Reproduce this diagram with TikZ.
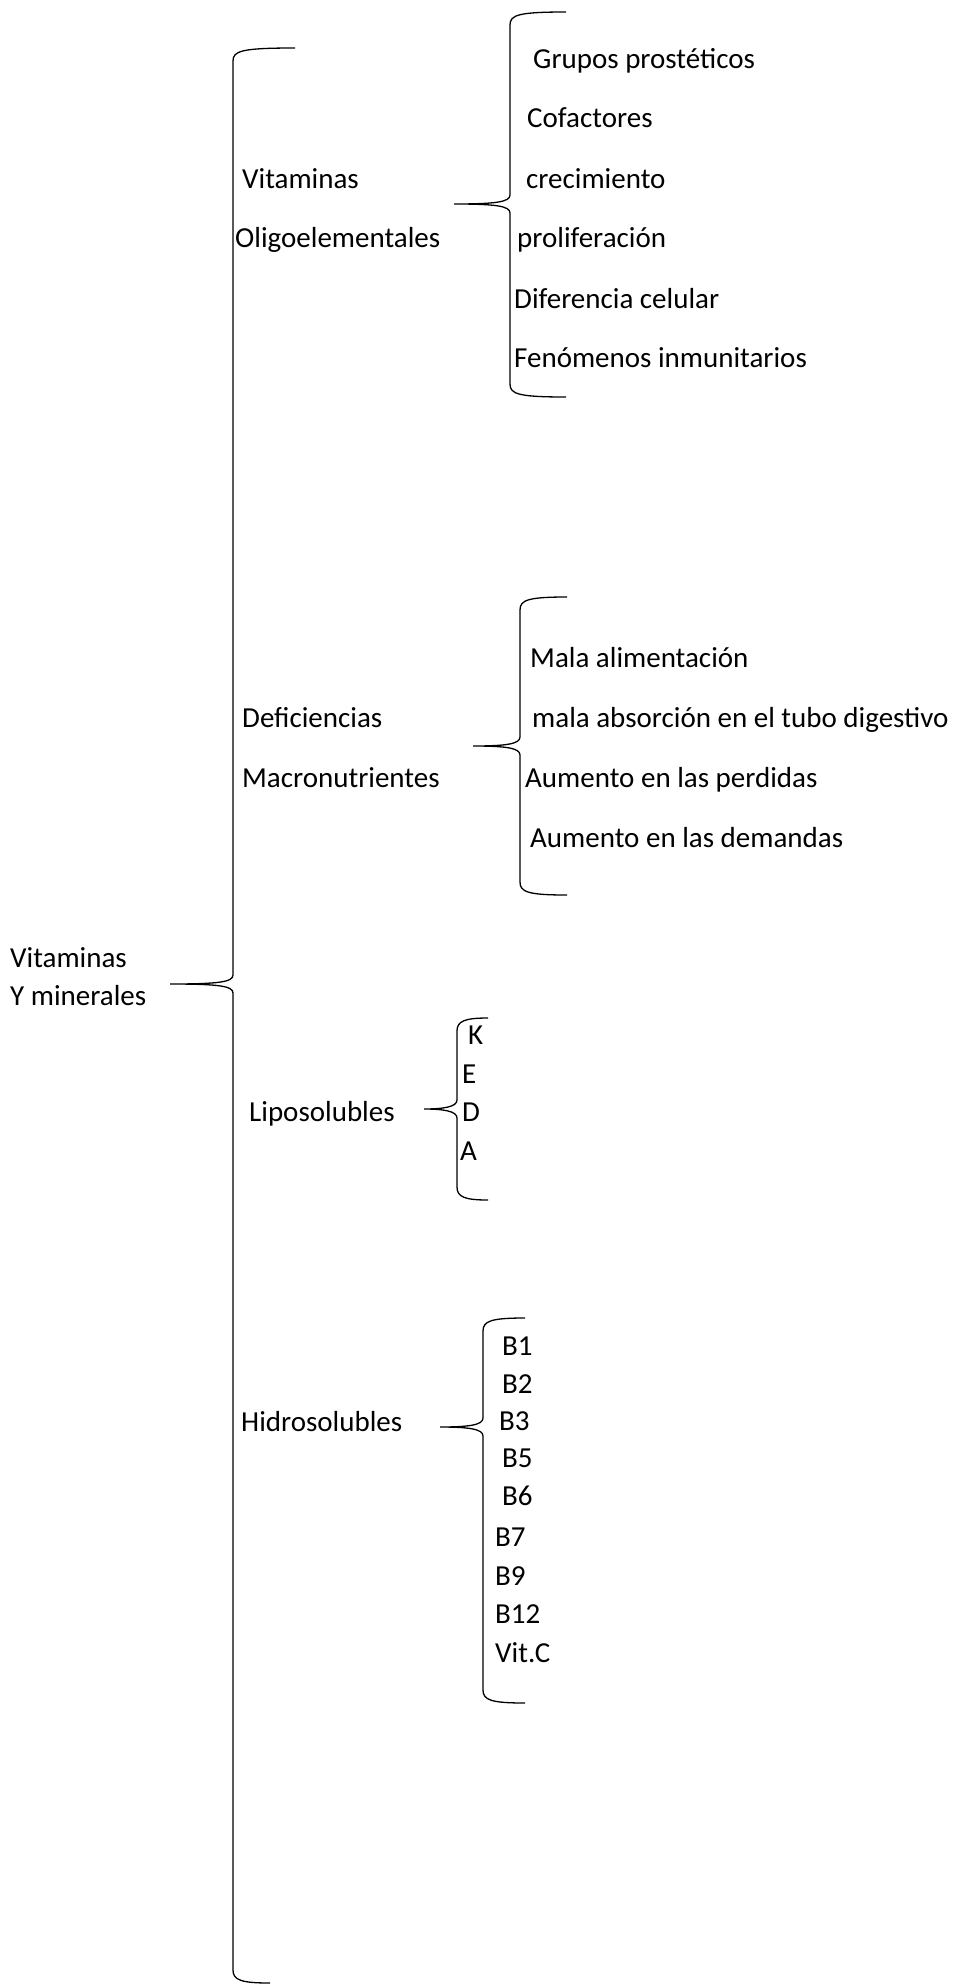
\documentclass[tikz,border=0pt]{standalone}
\usepackage{fontspec}
\setmainfont{Carlito}

% brace: tip x, tip y, vertical x, top y, bottom y, top end x, bottom end x
\newcommand{\llave}[7]{%
  \draw[brace] (#6,#4) .. controls ({#3+8},#4) and (#3,{#4+3}) .. (#3,{#4+13})
    -- (#3,{#2-9}) .. controls (#3,{#2-2}) and ({#3-14},#2) .. (#1,#2)
    .. controls ({#3-14},#2) and (#3,{#2+2}) .. (#3,{#2+9})
    -- (#3,{#5-13}) .. controls (#3,{#5-3}) and ({#3+8},#5) .. (#7,#5);}

\begin{document}
\begin{tikzpicture}[
    x=1pt, y=-1pt,
    label/.style={
        anchor=base west,
        inner sep=0pt,
        font=\fontsize{29}{34}\selectfont
    },
    brace/.style={line width=1.3pt}
]
\useasboundingbox (0,0) rectangle (956,1986);

% Root
\node[label] (raiz1) at (10,967)  {Vitaminas};
\node[label] (raiz2) at (10,1005) {Y minerales};

% First group
\node[label] (vit)   at (242,188) {Vitaminas};
\node[label] (oligo) at (235,247) {Oligoelementales};
\node[label] (grupos) at (533,68)  {Grupos prostéticos};
\node[label] (cofact) at (527,127) {Cofactores};
\node[label] (crec)   at (526,188) {crecimiento};
\node[label] (prolif) at (517,247) {proliferación};
\node[label] (difer)  at (514,308) {Diferencia celular};
\node[label] (fenom)  at (514,367) {Fenómenos inmunitarios};

% Second group
\node[label] (defic) at (242,727) {Deficiencias};
\node[label] (macro) at (242,787) {Macronutrientes};
\node[label] (mala)  at (530,667) {Mala alimentación};
\node[label] (absor) at (532,727) {mala absorción en el tubo digestivo};
\node[label] (perd)  at (525,787) {Aumento en las perdidas};
\node[label] (dem)   at (530,847) {Aumento en las demandas};

% Third group
\node[label] (lipo) at (249,1121) {Liposolubles};
\node[label] (vk) at (468,1044) {K};
\node[label] (ve) at (462,1083) {E};
\node[label] (vd) at (462,1121) {D};
\node[label] (va) at (460,1160) {A};

% Fourth group
\node[label] (hidro) at (241,1431) {Hidrosolubles};
\node[label] (b1)  at (502,1355) {B1};
\node[label] (b2)  at (502,1393) {B2};
\node[label] (b3)  at (499,1430) {B3};
\node[label] (b5)  at (502,1467) {B5};
\node[label] (b6)  at (502,1505) {B6};
\node[label] (b7)  at (495,1546) {B7};
\node[label] (b9)  at (495,1585) {B9};
\node[label] (b12) at (495,1623) {B12};
\node[label] (vitc) at (495,1662) {Vit.C};

% Braces
\llave{170}{984}{233}{48}{1983}{295}{270}
\llave{454}{204}{510}{12}{397}{566}{566}
\llave{473}{746}{520}{597}{895}{567}{567}
\llave{424}{1109}{457}{1018}{1200}{488}{488}
\llave{440}{1427}{483}{1318}{1703}{525}{525}

\end{tikzpicture}
\end{document}
